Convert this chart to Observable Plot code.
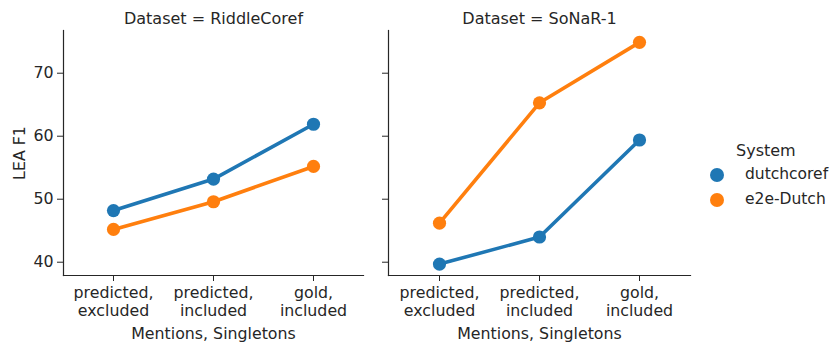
<!DOCTYPE html>
<html><head><meta charset="utf-8">
<script src="https://cdn.jsdelivr.net/npm/d3@7"></script>
<script src="https://cdn.jsdelivr.net/npm/@observablehq/plot@0.6"></script>
<style>
body{margin:0;background:#fff;font-family:"DejaVu Sans",sans-serif;}
#wrap{position:relative;width:836px;height:342px;overflow:hidden;}
.abs{position:absolute;top:0;}
.leg{position:absolute;font-family:"DejaVu Sans",sans-serif;color:#262626;white-space:nowrap;}
</style></head><body><div id="wrap"></div>
<script>
const categories = ["predicted, excluded", "predicted, included", "gold, included"];
const tickLabels = ["predicted,\nexcluded", "predicted,\nincluded", "gold,\nincluded"];
const datasets = ["RiddleCoref", "SoNaR-1"];
const systems = ["dutchcoref", "e2e-Dutch"];
const colors = ["#1f77b4", "#ff7f0e"];
const riddleDutchcoref = [48.2, 53.2, 61.9];
const riddleE2e = [45.2, 49.6, 55.2];
const sonarDutchcoref = [39.7, 44.0, 59.4];
const sonarE2e = [46.2, 65.3, 74.9];
const yTicks = [40, 50, 60, 70];
const yDomain = [37.89, 76.78];

function rows(dataset, system, values) {
  return categories.map((c, i) => ({dataset, system, category: c, value: values[i]}));
}
const data = [
  ...rows("RiddleCoref", "dutchcoref", riddleDutchcoref),
  ...rows("RiddleCoref", "e2e-Dutch", riddleE2e),
  ...rows("SoNaR-1", "dutchcoref", sonarDutchcoref),
  ...rows("SoNaR-1", "e2e-Dutch", sonarE2e)
];
const ink = "#262626";

function panel(dataset, width, marginLeft, marginRight, showY) {
  const d = data.filter(r => r.dataset === dataset);
  return Plot.plot({
    width, height: 342, marginTop: 30, marginBottom: 67, marginLeft, marginRight,
    style: {fontFamily: "DejaVu Sans", fontSize: "15.8px", color: ink, background: "transparent", overflow: "visible"},
    x: {type: "point", domain: categories, padding: 0.5},
    y: {domain: yDomain},
    color: {domain: systems, range: colors},
    marks: [
      Plot.frame({anchor: "left", stroke: ink, strokeWidth: 1.2}),
      Plot.frame({anchor: "bottom", stroke: ink, strokeWidth: 1.2}),
      Plot.axisY({ticks: yTicks, tickSize: 6, tickPadding: 4, stroke: ink,
        tickFormat: showY ? (v => String(v)) : (() => ""),
        label: showY ? "LEA F1" : null, labelAnchor: "center", labelArrow: "none", labelOffset: 50}),
      Plot.axisX({tickSize: 6, tickPadding: 4, stroke: ink, lineHeight: 1.13,
        tickFormat: v => tickLabels[categories.indexOf(v)],
        label: "Mentions, Singletons", labelAnchor: "center", labelArrow: "none", labelOffset: 63}),
      Plot.line(d, {x: "category", y: "value", z: "system", stroke: "system", strokeWidth: 3.6}),
      Plot.dot(d, {x: "category", y: "value", fill: "system", r: 6.6}),
      Plot.text([`Dataset = ${dataset}`], {frameAnchor: "top", dy: -18, fontSize: 16, fill: ink})
    ]
  });
}

const wrap = document.getElementById("wrap");
const p1 = panel("RiddleCoref", 375, 63, 12, true);
p1.classList.add("abs"); p1.style.left = "0px";
const p2 = panel("SoNaR-1", 340, 25, 13, false);
p2.classList.add("abs"); p2.style.left = "363px";
wrap.appendChild(p1); wrap.appendChild(p2);

// legend
const title = document.createElement("div");
title.className = "leg"; title.textContent = "System";
title.style.cssText += "left:736px;top:141px;font-size:16px;";
wrap.appendChild(title);
systems.forEach((s, i) => {
  const y = 175 + i * 24.5;
  const sw = document.createElementNS("http://www.w3.org/2000/svg", "svg");
  sw.setAttribute("width", 16); sw.setAttribute("height", 16);
  sw.style.cssText = `position:absolute;left:${717 - 8}px;top:${y - 8}px;`;
  const c = document.createElementNS("http://www.w3.org/2000/svg", "circle");
  c.setAttribute("cx", 8); c.setAttribute("cy", 8); c.setAttribute("r", 7);
  c.setAttribute("fill", colors[i]);
  sw.appendChild(c); wrap.appendChild(sw);
  const t = document.createElement("div");
  t.className = "leg"; t.textContent = s;
  t.style.cssText += `left:745px;top:${y - 10}px;font-size:15.5px;`;
  wrap.appendChild(t);
});
</script></body></html>
